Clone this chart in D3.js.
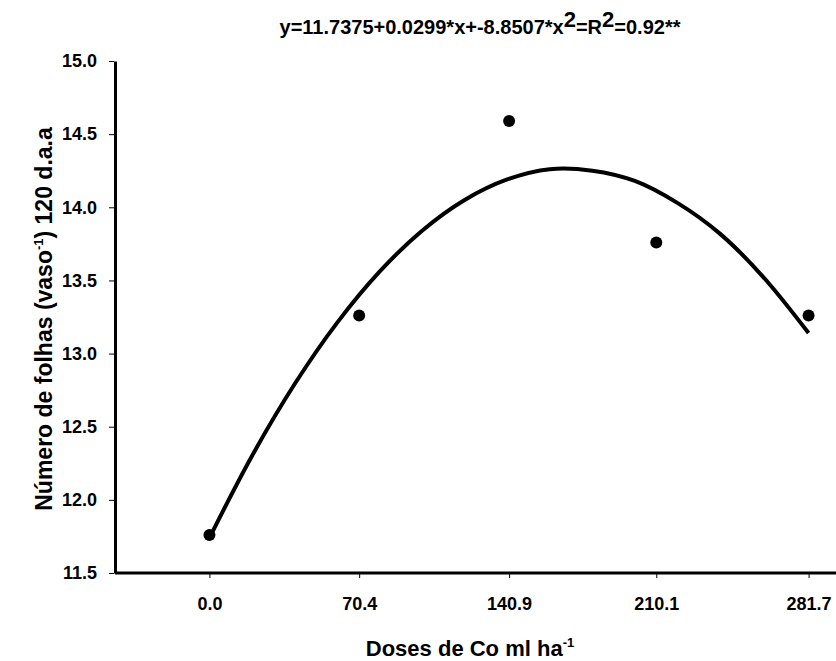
<!DOCTYPE html>
<html>
<head>
<meta charset="utf-8">
<script src="https://cdn.jsdelivr.net/npm/d3@7"></script>
<style>
  body { margin: 0; background: #fff; }
  text { font-family: "Liberation Sans", Arial, sans-serif; font-weight: bold; fill: #000; }
</style>
</head>
<body>
<svg id="chart" width="836" height="661"></svg>
<script>
// observed points
const doses = [0.0, 70.4, 140.9, 210.1, 281.7];
const folhas = [11.76, 13.26, 14.59, 13.76, 13.26];

// fitted curve
const curveX = [0, 20, 40, 60, 80, 100, 120, 140, 160, 180, 200, 220, 240, 260, 281.7];
const curveY = [11.74, 12.30, 12.79, 13.21, 13.56, 13.84, 14.05, 14.19, 14.26, 14.25, 14.18, 14.03, 13.82, 13.53, 13.14];

const xTicks = [0.0, 70.4, 140.9, 210.1, 281.7];
const yTicks = [11.5, 12.0, 12.5, 13.0, 13.5, 14.0, 14.5, 15.0];

const svg = d3.select("#chart");

const plotLeft = 115, plotRight = 836, plotTop = 61, plotBottom = 573;

// x scale: 0 sits at 210px, 281.7 at 806px
const xscale = d3.scaleLinear()
    .domain([-44.4, 294.6])
    .range([plotLeft, plotRight]);

const yscale = d3.scaleLinear()
    .domain([11.5, 15.0])
    .range([plotBottom, plotTop]);

//x axis
const xaxis = d3.axisBottom(xscale)
    .tickValues(xTicks)
    .tickSize(5)
    .tickSizeOuter(0)
    .tickPadding(19)
    .tickFormat(d3.format(".1f"));

const gx = svg.append("g")
    .attr("transform", `translate(0,${plotBottom})`)
    .call(xaxis);
gx.select(".domain").attr("stroke-width", 3).attr("d", `M${plotLeft},0H${plotRight}`);
gx.selectAll(".tick text").style("font-size", "18px").attr("font-family", null);

//y axis
const yaxis = d3.axisLeft(yscale)
    .tickValues(yTicks)
    .tickSize(5)
    .tickSizeOuter(0)
    .tickPadding(13)
    .tickFormat(d3.format(".1f"));

const gy = svg.append("g")
    .attr("transform", `translate(${plotLeft},0)`)
    .call(yaxis);
gy.select(".domain").attr("stroke-width", 3);
gy.selectAll(".tick text").style("font-size", "18px").attr("font-family", null);
gy.selectAll(".tick line").attr("transform", "translate(-1,0)");

//fitted curve
const line = d3.line()
    .x((d, i) => xscale(curveX[i]))
    .y((d) => yscale(d))
    .curve(d3.curveCatmullRom);

svg.append("path")
    .datum(curveY)
    .attr("fill", "none")
    .attr("stroke", "#000")
    .attr("stroke-width", 4)
    .attr("d", line);

//points
svg.selectAll("circle")
    .data(folhas)
    .join("circle")
    .attr("cx", (d, i) => xscale(doses[i]))
    .attr("cy", (d) => yscale(d))
    .attr("r", 6)
    .attr("fill", "#000");

//equation title
const title = svg.append("text")
    .attr("x", 480)
    .attr("y", 34)
    .attr("text-anchor", "middle")
    .style("font-size", "20px");
title.append("tspan").text("y=11.7375+0.0299*x+-8.8507*x");
title.append("tspan").attr("dy", -7).style("font-size", "22px").text("2");
title.append("tspan").attr("dy", 7).text("=R");
title.append("tspan").attr("dy", -7).style("font-size", "22px").text("2");
title.append("tspan").attr("dy", 7).text("=0.92**");

//x axis title
const xt = svg.append("text")
    .attr("x", 470)
    .attr("y", 656)
    .attr("text-anchor", "middle")
    .style("font-size", "22px");
xt.append("tspan").text("Doses de Co ml ha");
xt.append("tspan").attr("dy", -9).style("font-size", "13px").text("-1");

//y axis title
const yt = svg.append("text")
    .attr("transform", "translate(52,319) rotate(-90)")
    .attr("text-anchor", "middle")
    .style("font-size", "23px");
yt.append("tspan").text("Número de folhas (vaso");
yt.append("tspan").attr("dy", -9).style("font-size", "13px").text("-1");
yt.append("tspan").attr("dy", 9).text(") 120 d.a.a");
</script>
</body>
</html>
